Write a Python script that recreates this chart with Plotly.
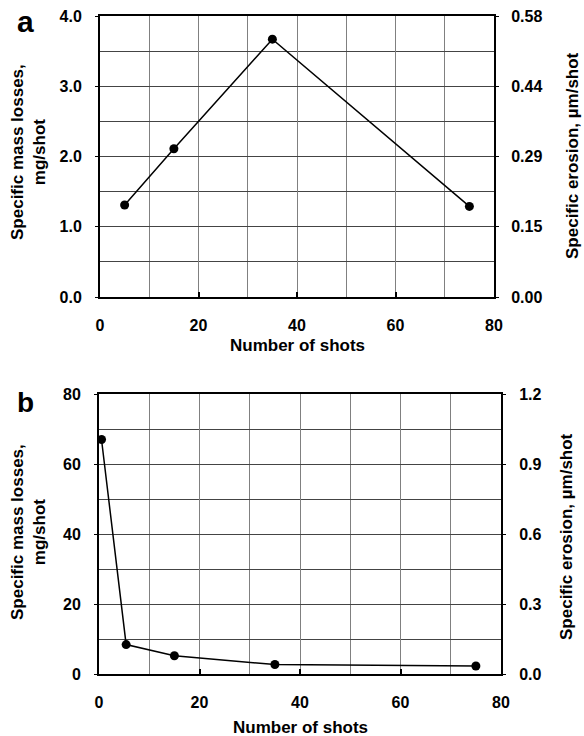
import plotly.graph_objects as go

# Panel a data
shots_a = [5, 15, 35, 75]
mass_a = [1.31, 2.11, 3.67, 1.29]
mass_ticks_a = [0, 1, 2, 3, 4]
mass_labels_a = ["0.0", "1.0", "2.0", "3.0", "4.0"]
erosion_labels_a = ["0.00", "0.15", "0.29", "0.44", "0.58"]

# Panel b data
shots_b = [0.5, 5.4, 15, 35, 75]
mass_b = [67.0, 8.4, 5.2, 2.7, 2.3]
mass_ticks_b = [0, 20, 40, 60, 80]
mass_labels_b = ["0", "20", "40", "60", "80"]
erosion_labels_b = ["0.0", "0.3", "0.6", "0.9", "1.2"]

x_ticks = [0, 20, 40, 60, 80]

W, H = 584, 736
FONT = "Liberation Sans, Arial, sans-serif"


def px_x(p):
    return p / W


def px_y(p):
    return 1 - p / H


fig = go.Figure()

line_style = dict(color="black", width=1.5)
marker_style = dict(color="black", size=9)

fig.add_trace(go.Scatter(x=shots_a, y=mass_a, mode="lines+markers", line=line_style,
                         marker=marker_style, xaxis="x", yaxis="y", showlegend=False))
fig.add_trace(go.Scatter(x=shots_a, y=mass_a, mode="lines", opacity=0, hoverinfo="skip",
                         xaxis="x", yaxis="y2", showlegend=False))
fig.add_trace(go.Scatter(x=shots_b, y=mass_b, mode="lines+markers", line=line_style,
                         marker=marker_style, xaxis="x2", yaxis="y3", showlegend=False))
fig.add_trace(go.Scatter(x=shots_b, y=mass_b, mode="lines", opacity=0, hoverinfo="skip",
                         xaxis="x2", yaxis="y4", showlegend=False))

tickfont = dict(family=FONT, size=16, color="black", weight="bold")
grid_h = "#444444"
grid_v = "#808080"

common_x = dict(range=[0, 80], tickvals=x_ticks, ticktext=[str(v) for v in x_ticks],
                showline=True, linecolor="black", linewidth=2, mirror=True,
                ticks="inside", ticklen=5, tickcolor="black", tickwidth=1.5,
                showgrid=True, gridcolor=grid_v, gridwidth=1,
                minor=dict(tickvals=[10, 30, 50, 70], showgrid=True, gridcolor=grid_v, gridwidth=1),
                tickfont=tickfont, ticklabelstandoff=13, zeroline=False, automargin=False,
                fixedrange=True)

dom_ya = [px_y(297), px_y(16)]
dom_yb = [px_y(674), px_y(394)]

fig.update_layout(
    width=W, height=H,
    margin=dict(l=0, r=0, t=0, b=0),
    paper_bgcolor="white", plot_bgcolor="white",
    template="none",
    xaxis=dict(domain=[px_x(100), px_x(494)], anchor="y", **common_x),
    xaxis2=dict(domain=[px_x(99), px_x(501)], anchor="y3", **common_x),
    yaxis=dict(domain=dom_ya, anchor="x", range=[0, 4], tickvals=mass_ticks_a, ticktext=mass_labels_a,
               showline=True, linecolor="black", linewidth=2,
               ticks="outside", ticklen=3, tickcolor="black",
               showgrid=True, gridcolor=grid_h, gridwidth=1,
               minor=dict(dtick=0.5, showgrid=True, gridcolor=grid_h, gridwidth=1),
               tickfont=tickfont, ticklabelstandoff=10, zeroline=False, automargin=False),
    yaxis2=dict(domain=dom_ya, anchor="x", overlaying="y", side="right", range=[0, 4],
                tickvals=mass_ticks_a, ticktext=erosion_labels_a,
                showline=True, linecolor="black", linewidth=2,
                ticks="outside", ticklen=3, tickcolor="black",
                showgrid=False, tickfont=tickfont, ticklabelstandoff=9,
                zeroline=False, automargin=False),
    yaxis3=dict(domain=dom_yb, anchor="x2", range=[0, 80], tickvals=mass_ticks_b, ticktext=mass_labels_b,
                showline=True, linecolor="black", linewidth=2,
                ticks="outside", ticklen=3, tickcolor="black",
                showgrid=True, gridcolor=grid_h, gridwidth=1,
                minor=dict(dtick=10, showgrid=True, gridcolor=grid_h, gridwidth=1),
                tickfont=tickfont, ticklabelstandoff=10, zeroline=False, automargin=False),
    yaxis4=dict(domain=dom_yb, anchor="x2", overlaying="y3", side="right", range=[0, 80],
                tickvals=mass_ticks_b, ticktext=erosion_labels_b,
                showline=True, linecolor="black", linewidth=2,
                ticks="outside", ticklen=3, tickcolor="black",
                showgrid=False, tickfont=tickfont, ticklabelstandoff=10,
                zeroline=False, automargin=False),
)

title_font = dict(family=FONT, size=17, color="black")
ann = []
# Panel letters
ann.append(dict(text="<b>a</b>", x=px_x(25), y=px_y(22), font=dict(family=FONT, size=30, color="black")))
ann.append(dict(text="<b>b</b>", x=px_x(25), y=px_y(402), font=dict(family=FONT, size=28, color="black")))
# x titles
ann.append(dict(text="<b>Number of shots</b>", x=px_x(297), y=px_y(345), font=title_font))
ann.append(dict(text="<b>Number of shots</b>", x=px_x(300), y=px_y(727), font=title_font))
# left titles
ann.append(dict(text="<b>Specific mass losses,<br>mg/shot</b>", x=px_x(28), y=px_y(152),
                textangle=-90, font=title_font))
ann.append(dict(text="<b>Specific mass losses,<br>mg/shot</b>", x=px_x(28), y=px_y(532),
                textangle=-90, font=title_font))
# right titles
ann.append(dict(text="<b>Specific erosion, µm/shot</b>", x=px_x(573), y=px_y(156),
                textangle=-90, font=title_font))
ann.append(dict(text="<b>Specific erosion, µm/shot</b>", x=px_x(566), y=px_y(537),
                textangle=-90, font=title_font))

for a in ann:
    a.update(xref="paper", yref="paper", showarrow=False, xanchor="center", yanchor="middle")
fig.update_layout(annotations=ann)

fig.write_html("out.html")
